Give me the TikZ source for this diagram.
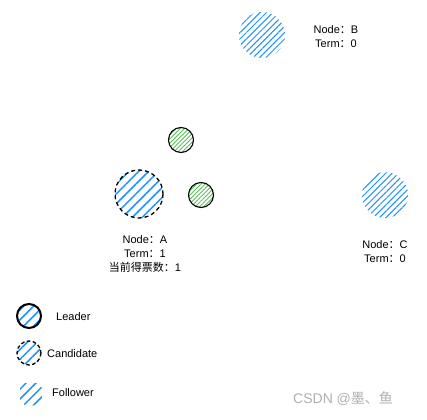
\documentclass[tikz,border=0pt]{standalone}
\usepackage{fontspec}
\setmainfont{Liberation Sans}
\newfontfamily\cjk{Noto Sans CJK SC}
\newcommand{\fc}{{\cjk ：}}
\usetikzlibrary{patterns.meta}
\definecolor{hblue}{RGB}{30,144,255}
\definecolor{hgreen}{RGB}{90,190,90}
\definecolor{wm}{RGB}{175,175,175}
\begin{document}
\begin{tikzpicture}[x=1pt,y=-1pt,
  lbl/.style={font=\fontsize{11}{14}\selectfont, align=center, inner sep=0pt},
  bluehatch/.style={pattern={Lines[angle=45,distance=4.5pt,line width=1pt]}, pattern color=hblue},
  sparsehatch/.style={pattern={Lines[angle=45,distance=7pt,line width=1.5pt]}, pattern color=hblue},
  greenhatch/.style={pattern={Lines[angle=45,distance=3pt,line width=0.9pt]}, pattern color=hgreen},
  dashedring/.style={draw=black, line width=1.3pt, dash pattern=on 4pt off 3pt},
  ]
\useasboundingbox (0,0) rectangle (427,419);
% Node B
\path[bluehatch] (262,35) circle (23) node (B) {};
\node[lbl] (Bl) at (336,37) {Node\fc B\\Term\fc 0};
% Node C
\path[bluehatch] (385,195) circle (23) node (C) {};
\node[lbl] (Cl) at (385,252) {Node\fc C\\Term\fc 0};
% Node A (candidate)
\path[sparsehatch] (139,194) circle (24) node (A) {};
\draw[dashedring] (A.center) circle (24);
\node[lbl] (Al) at (145,254) {Node\fc A\\Term\fc 1\\{\cjk 当前得票数：}1};
% votes
\path[greenhatch, draw=black, line width=1.1pt] (181,140) circle (12.5) node (v1) {};
\path[greenhatch, draw=black, line width=1.1pt] (201,195) circle (12.5) node (v2) {};
% legend
\path[sparsehatch, draw=black, line width=2pt] (29,316) circle (12) node (L) {};
\node[lbl, anchor=west] (Lt) at (56,317) {Leader};
\path[sparsehatch] (29,353) circle (12) node (Cd) {};
\draw[dashedring, dash pattern=on 3.5pt off 2.5pt] (Cd.center) circle (12);
\node[lbl, anchor=west] (Ct) at (47,354) {Candidate};
\begin{scope}
\clip (20,383) rectangle (42,405);
\path[sparsehatch] (30,393) circle (13) node (F) {};
\end{scope}
\node[lbl, anchor=west] (Ft) at (52,393) {Follower};
% watermark
\node[lbl, text=wm, font=\fontsize{14}{16}\selectfont, anchor=west] (W) at (293,399) {CSDN @{\cjk 墨、鱼}};
\end{tikzpicture}
\end{document}
